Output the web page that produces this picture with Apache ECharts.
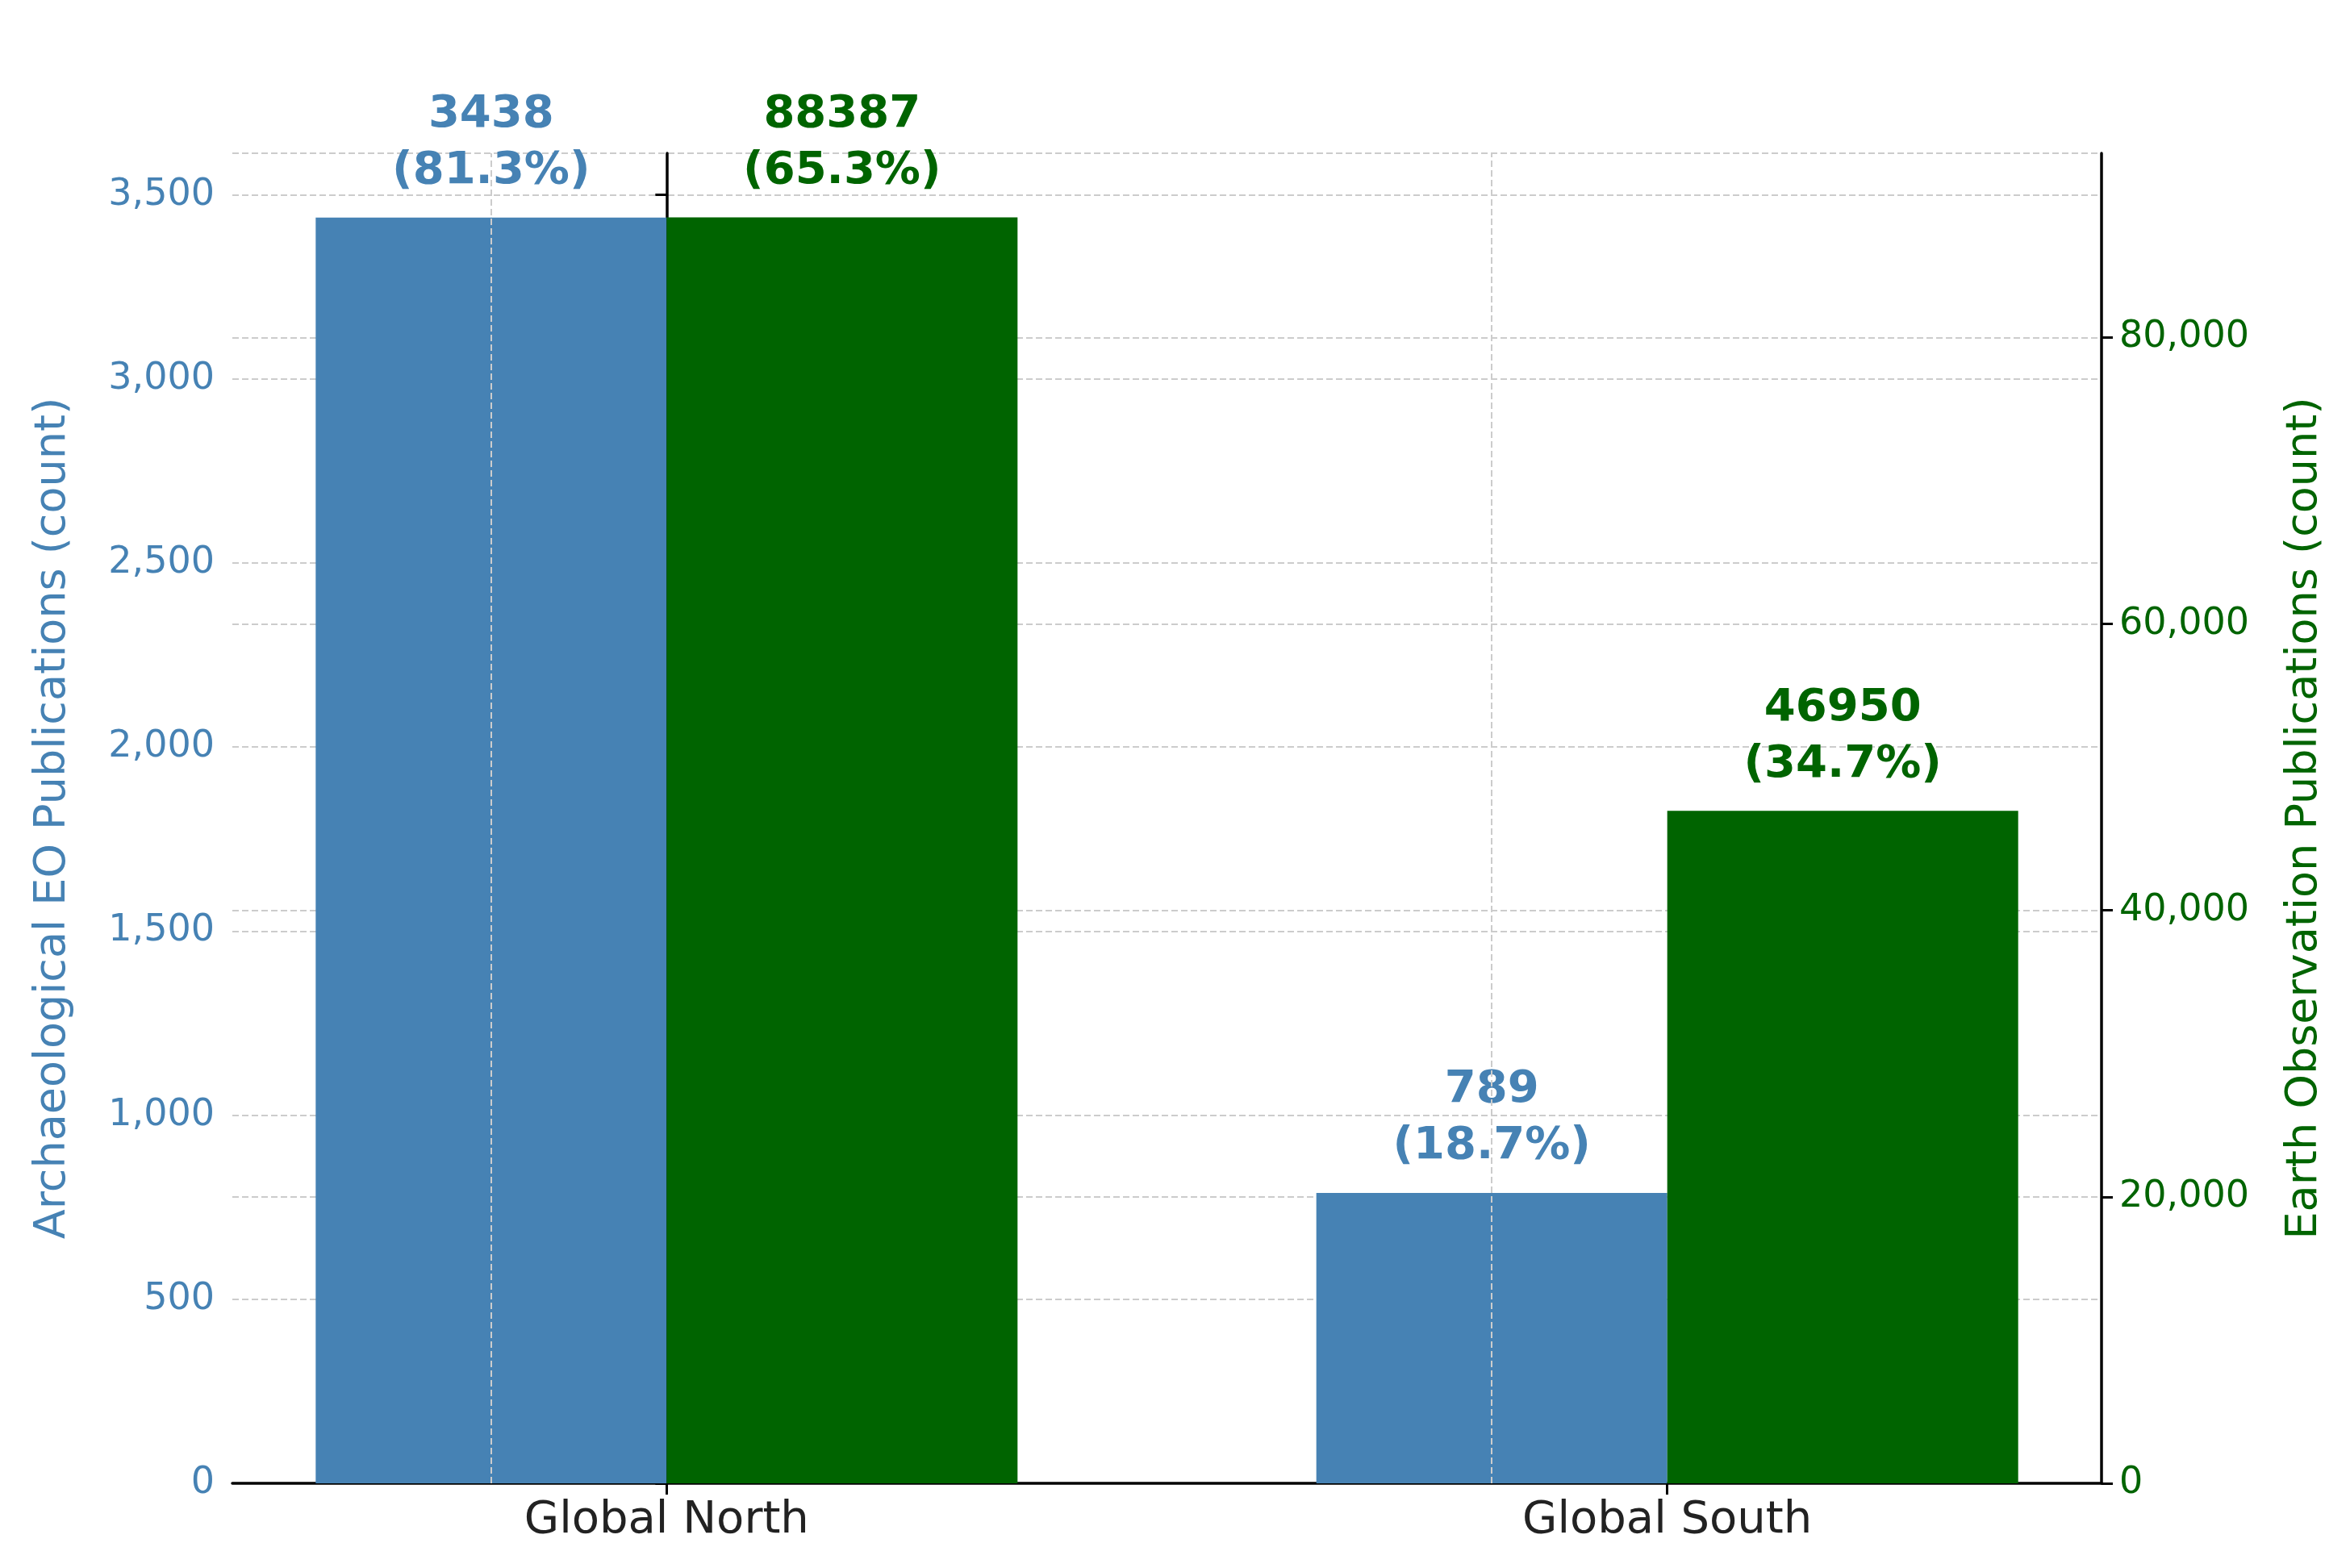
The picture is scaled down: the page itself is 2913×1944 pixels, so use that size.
<!DOCTYPE html>
<html>
<head>
<meta charset="utf-8">
<script src="https://cdn.jsdelivr.net/npm/echarts@6/dist/echarts.min.js"></script>
<style>html,body{margin:0;padding:0;background:#fff}#chart{width:2913px;height:1944px}</style>
</head>
<body>
<div id="chart"></div>
<script>
// categories and values
const categories = ['Global North', 'Global South'];
const archValues = [3438, 789];
const archShares = ['81.3%', '18.7%'];
const eoValues = [88387, 46950];
const eoShares = ['65.3%', '34.7%'];

const blue = '#4682b4';
const green = '#006400';
const font = 'DejaVu Sans';

const chart = echarts.init(document.getElementById('chart'));

const barLabel = (shares, color) => ({
    show: true,
    position: 'top',
    distance: 22,
    color: color,
    fontFamily: font,
    fontWeight: 'bold',
    fontSize: 56,
    lineHeight: 70,
    formatter: p => p.value[1] + '\n(' + shares[p.dataIndex] + ')'
});

const option = {
    animation: false,
    grid: {left: 288, right: 308, top: 190, bottom: 105},
    xAxis: {
        type: 'value',
        min: -0.434,
        max: 1.434,
        axisLine: {lineStyle: {color: '#000', width: 3.5}},
        axisTick: {show: true, customValues: [0, 1], length: 14, lineStyle: {color: '#000', width: 3}},
        axisLabel: {
            customValues: [0, 1],
            formatter: v => categories[Math.round(v)],
            color: '#222', fontFamily: font, fontSize: 56, margin: 18
        },
        splitLine: {show: false}
    },
    yAxis: [{
        type: 'value',
        min: 0, max: 3613, interval: 500,
        name: 'Archaeological EO Publications (count)',
        nameLocation: 'middle', nameGap: 195,
        nameTextStyle: {color: blue, fontFamily: font, fontSize: 54},
        axisLine: {show: true, lineStyle: {color: '#000', width: 3.5}},
        axisTick: {show: true, length: 14, lineStyle: {color: '#000', width: 3}},
        axisLabel: {color: blue, fontFamily: font, fontSize: 46, margin: 22, showMaxLabel: false},
        splitLine: {show: true, lineStyle: {color: '#cccccc', type: 'dashed', width: 2}}
    }, {
        type: 'value',
        min: 0, max: 92863, interval: 20000,
        name: 'Earth Observation Publications (count)',
        nameLocation: 'middle', nameGap: 225,
        nameTextStyle: {color: green, fontFamily: font, fontSize: 54},
        axisLine: {show: true, lineStyle: {color: '#000', width: 3.5}},
        axisTick: {show: true, length: 14, lineStyle: {color: '#000', width: 3}},
        axisLabel: {color: green, fontFamily: font, fontSize: 46, margin: 22, showMaxLabel: false},
        splitLine: {show: true, lineStyle: {color: '#cccccc', type: 'dashed', width: 2}}
    }],
    series: [{
        type: 'bar',
        yAxisIndex: 0,
        barWidth: 435,
        barGap: '0%',
        data: archValues.map((v, i) => [i, v]),
        itemStyle: {color: blue},
        label: barLabel(archShares, blue),
        markLine: {
            silent: true, symbol: 'none', label: {show: false},
            lineStyle: {color: '#cccccc', type: 'dashed', width: 2},
            data: [{xAxis: 0}, {xAxis: 1}]
        },
        z: 3
    }, {
        type: 'bar',
        yAxisIndex: 1,
        barWidth: 435,
        barGap: '0%',
        data: eoValues.map((v, i) => [i, v]),
        itemStyle: {color: green},
        label: barLabel(eoShares, green),
        z: 3
    }]
};
chart.setOption(option);
</script>
</body>
</html>
